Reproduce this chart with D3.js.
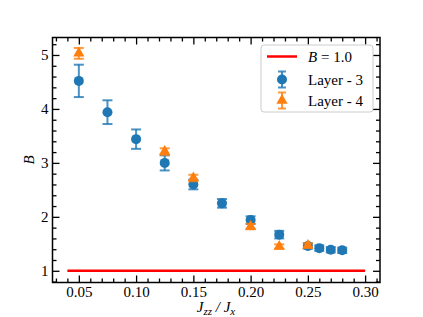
<!DOCTYPE html>
<html>
<head>
<meta charset="utf-8">
<script src="https://cdn.jsdelivr.net/npm/d3@7"></script>
<style>
  body { margin: 0; background: #fff; }
  text { font-family: "Liberation Serif", "DejaVu Serif", serif; }
</style>
</head>
<body>
<div id="chart"></div>
<script>
// data
var layer3X = [0.05, 0.075, 0.10, 0.125, 0.15, 0.175, 0.20, 0.225, 0.25, 0.26, 0.27, 0.28]
var layer3Y = [4.52, 3.94, 3.44, 3.00, 2.60, 2.25, 1.94, 1.67, 1.46, 1.42, 1.39, 1.38]
var layer3Err = [0.30, 0.22, 0.18, 0.14, 0.09, 0.08, 0.07, 0.07, 0.05, 0.05, 0.05, 0.05]

var layer4X = [0.05, 0.125, 0.15, 0.20, 0.225, 0.25]
var layer4Y = [5.03, 3.21, 2.72, 1.82, 1.45, 1.47]
var layer4Err = [0.1, 0.06, 0.06, 0.05, 0.04, 0.04]

var refLineX = [0.04, 0.30]
var refLineY = 1.0

var xTicks = [0.05, 0.10, 0.15, 0.20, 0.25, 0.30]
var yTicks = [1, 2, 3, 4, 5]

var width = 423
var height = 317
var margin = {left: 52.5, right: 43, top: 37.5, bottom: 34.5}

var blue = "#1f77b4"
var orange = "#ff7f0e"

var svg = d3.select("#chart")
    .append("svg")
    .attr("width", width)
    .attr("height", height)

var x = d3.scaleLinear().domain([0.027, 0.313]).range([margin.left, width - margin.right])
var y = d3.scaleLinear().domain([0.783, 5.324]).range([height - margin.bottom, margin.top])

var plot = svg.append("g")

// minor tick values (only those inside the axes)
function inside(scale) {
    var dom = scale.domain()
    return function(d) { return d >= dom[0] && d <= dom[1] }
}
var xMinor = d3.range(3, 32).map(function(d) { return d / 100 })
    .filter(function(d) { return Math.round(d * 100) % 5 != 0 }).filter(inside(x))
var yMinor = d3.range(4, 54, 2).map(function(d) { return d / 10 })
    .filter(function(d) { return Math.round(d * 10) % 10 != 0 }).filter(inside(y))

var noLabel = function() { return "" }

function tickAxis(axisFn, scale, vals, len, fmt, pad) {
    return axisFn(scale).tickValues(vals).tickSizeInner(-len).tickSizeOuter(0)
        .tickPadding(pad).tickFormat(fmt)
}

var x0 = height - margin.bottom, y0 = margin.left
var fmtX = d3.format(".2f")

// bottom
svg.append("g").attr("transform", "translate(0," + x0 + ")").call(tickAxis(d3.axisBottom, x, xTicks, 7, fmtX, 3.5))
svg.append("g").attr("transform", "translate(0," + x0 + ")").call(tickAxis(d3.axisBottom, x, xMinor, 4, noLabel, 0))
// top
svg.append("g").attr("transform", "translate(0," + margin.top + ")").call(tickAxis(d3.axisTop, x, xTicks, 7, noLabel, 0))
svg.append("g").attr("transform", "translate(0," + margin.top + ")").call(tickAxis(d3.axisTop, x, xMinor, 4, noLabel, 0))
// left
svg.append("g").attr("transform", "translate(" + y0 + ",0)").call(tickAxis(d3.axisLeft, y, yTicks, 7, d3.format("d"), 4))
svg.append("g").attr("transform", "translate(" + y0 + ",0)").call(tickAxis(d3.axisLeft, y, yMinor, 4, noLabel, 0))
// right
svg.append("g").attr("transform", "translate(" + (width - margin.right) + ",0)").call(tickAxis(d3.axisRight, y, yTicks, 7, noLabel, 0))
svg.append("g").attr("transform", "translate(" + (width - margin.right) + ",0)").call(tickAxis(d3.axisRight, y, yMinor, 4, noLabel, 0))

svg.selectAll(".domain").remove()
svg.selectAll(".tick line").attr("stroke", "#000").attr("stroke-width", 1.3)
svg.selectAll(".tick text").attr("font-size", 15).attr("fill", "#000")
    .style("font-family", "'Liberation Serif', serif")

// frame
svg.append("rect")
    .attr("x", margin.left).attr("y", margin.top)
    .attr("width", width - margin.left - margin.right)
    .attr("height", height - margin.top - margin.bottom)
    .attr("fill", "none").attr("stroke", "#000").attr("stroke-width", 1.5)

// reference line
plot.append("line")
    .attr("x1", x(refLineX[0])).attr("x2", x(refLineX[1]))
    .attr("y1", y(refLineY)).attr("y2", y(refLineY))
    .attr("stroke", "red").attr("stroke-width", 2.5)

function errorBars(g, xs, ys, errs, color) {
    var pts = xs.map(function(d, i) { return {x: d, y: ys[i], e: errs[i]} })
    var eg = g.append("g").attr("stroke", color).attr("stroke-width", 2).attr("stroke-opacity", 0.8)
    eg.selectAll(".v").data(pts).enter().append("line")
        .attr("x1", function(d) { return x(d.x) }).attr("x2", function(d) { return x(d.x) })
        .attr("y1", function(d) { return y(d.y - d.e) }).attr("y2", function(d) { return y(d.y + d.e) })
    eg.selectAll(".t").data(pts).enter().append("line")
        .attr("x1", function(d) { return x(d.x) - 5 }).attr("x2", function(d) { return x(d.x) + 5 })
        .attr("y1", function(d) { return y(d.y + d.e) }).attr("y2", function(d) { return y(d.y + d.e) })
    eg.selectAll(".b").data(pts).enter().append("line")
        .attr("x1", function(d) { return x(d.x) - 5 }).attr("x2", function(d) { return x(d.x) + 5 })
        .attr("y1", function(d) { return y(d.y - d.e) }).attr("y2", function(d) { return y(d.y - d.e) })
    return pts
}

// layer 3
var p3 = errorBars(plot, layer3X, layer3Y, layer3Err, blue)
plot.append("g").selectAll("circle").data(p3).enter().append("circle")
    .attr("cx", function(d) { return x(d.x) })
    .attr("cy", function(d) { return y(d.y) })
    .attr("r", 5)
    .attr("fill", blue)

// layer 4
var tri = d3.symbol().type(d3.symbolTriangle).size(55)
var p4 = errorBars(plot, layer4X, layer4Y, layer4Err, orange)
plot.append("g").selectAll("path").data(p4).enter().append("path")
    .attr("d", tri)
    .attr("transform", function(d) { return "translate(" + x(d.x) + "," + y(d.y) + ")" })
    .attr("fill", orange)

// axis labels
svg.append("text")
    .attr("x", 216).attr("y", 312)
    .attr("text-anchor", "middle").attr("font-size", 15).attr("font-style", "italic")
    .html('J<tspan dy="3" font-size="11">zz</tspan><tspan dy="-3"> / </tspan>J<tspan dy="3" font-size="11">x</tspan>')

svg.append("text")
    .attr("transform", "translate(34,160) rotate(-90)")
    .attr("text-anchor", "middle").attr("font-size", 15).attr("font-style", "italic")
    .text("B")

// legend
var leg = svg.append("g")
leg.append("rect")
    .attr("x", 261).attr("y", 45).attr("width", 112).attr("height", 67).attr("rx", 3)
    .attr("fill", "#fff").attr("fill-opacity", 0.8).attr("stroke", "#ccc")

leg.append("line").attr("x1", 267).attr("x2", 297).attr("y1", 56.5).attr("y2", 56.5)
    .attr("stroke", "red").attr("stroke-width", 2.5)
leg.append("text").attr("x", 308).attr("y", 61.5).attr("font-size", 15)
    .html('<tspan font-style="italic">B</tspan> = 1.0')

var legItems = [{label: "Layer - 3", color: blue, yy: 79.5, kind: "circle"}, {label: "Layer - 4", color: orange, yy: 100.5, kind: "tri"}]
legItems.forEach(function(it) {
    var g = leg.append("g").attr("stroke", it.color).attr("stroke-width", 2).attr("stroke-opacity", 0.8)
    g.append("line").attr("x1", 282).attr("x2", 282).attr("y1", it.yy - 8).attr("y2", it.yy + 8)
    g.append("line").attr("x1", 278).attr("x2", 286).attr("y1", it.yy - 8).attr("y2", it.yy - 8)
    g.append("line").attr("x1", 278).attr("x2", 286).attr("y1", it.yy + 8).attr("y2", it.yy + 8)
    if (it.kind == "circle") {
        leg.append("circle").attr("cx", 282).attr("cy", it.yy).attr("r", 5).attr("fill", it.color)
    } else {
        leg.append("path").attr("d", tri).attr("transform", "translate(282," + it.yy + ")").attr("fill", it.color)
    }
    leg.append("text").attr("x", 308).attr("y", it.yy + 5).attr("font-size", 15).text(it.label)
})
</script>
</body>
</html>
